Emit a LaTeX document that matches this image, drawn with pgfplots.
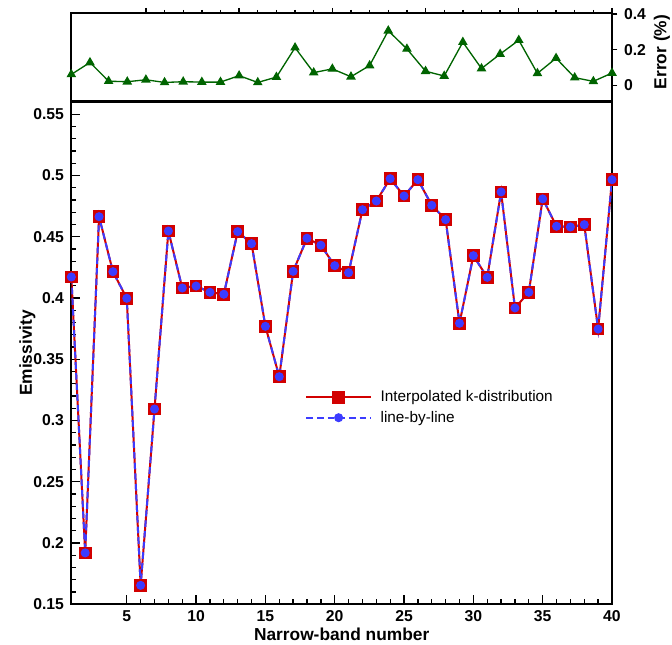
\documentclass[border=0pt]{standalone}
\usepackage{fontspec}
\setmainfont{Liberation Sans}
\usepackage{pgfplots}
\usepackage{pgfplotstable}
\pgfplotsset{compat=1.18}

\definecolor{kdred}{RGB}{210,0,0}
\definecolor{lblblue}{RGB}{60,60,255}
\definecolor{errgreen}{RGB}{0,100,0}

% band  k-distribution  line-by-line
\pgfplotstableread{
band kd     lbl
1    0.4172 0.4172
2    0.1920 0.1920
3    0.4664 0.4664
4    0.4215 0.4215
5    0.3998 0.3998
6    0.1655 0.1655
7    0.3094 0.3094
8    0.4547 0.4547
9    0.4082 0.4082
10   0.4098 0.4098
11   0.4047 0.4047
12   0.4031 0.4031
13   0.4542 0.4542
14   0.4444 0.4444
15   0.3769 0.3769
16   0.3358 0.3358
17   0.4218 0.4218
18   0.4488 0.4488
19   0.4431 0.4431
20   0.4264 0.4264
21   0.4207 0.4207
22   0.4721 0.4721
23   0.4792 0.4792
24   0.4974 0.4974
25   0.4833 0.4833
26   0.4966 0.4966
27   0.4757 0.4757
28   0.4640 0.4640
29   0.3794 0.3794
30   0.4346 0.4346
31   0.4169 0.4169
32   0.4866 0.4866
33   0.3919 0.3919
34   0.4047 0.4047
35   0.4809 0.4809
36   0.4586 0.4586
37   0.4580 0.4580
38   0.4599 0.4599
39   0.3747 0.3747
40   0.4966 0.4966
}\emissivity

% relative error in percent
\pgfplotstableread{
n   err
1   0.062
2   0.129
3   0.024
4   0.021
5   0.032
6   0.017
7   0.021
8   0.019
9   0.019
10  0.055
11  0.017
12  0.047
13  0.212
14  0.072
15  0.093
16  0.049
17  0.112
18  0.307
19  0.205
20  0.080
21  0.053
22  0.243
23  0.095
24  0.176
25  0.254
26  0.068
27  0.153
28  0.044
29  0.023
30  0.070
}\errortab

\begin{document}
\begin{tikzpicture}
\path[use as bounding box] (0,0) rectangle (504pt,483.75pt);

\pgfplotsset{
  common/.style={
    scale only axis,
    width=405.5pt,
    axis line style={line width=1.6pt},
    tick style={line width=1pt, black},
    /pgf/number format/assume math mode=true,
    ticklabel style={font=\bfseries\fontsize{11.8}{13}\selectfont},
    label style={font=\bfseries\fontsize{13}{15}\selectfont},
  }
}

% emissivity panel
\begin{axis}[
  common,
  at={(53.5pt,30.5pt)}, anchor=south west,
  height=377.1pt,
  xmin=1, xmax=40, ymin=0.15, ymax=0.5604,
  xtick={5,10,15,20,25,30,35,40},
  minor x tick num=4,
  ytick={0.15,0.2,0.25,0.3,0.35,0.4,0.45,0.5,0.55},
  minor y tick num=4,
  yticklabel style={/pgf/number format/fixed, /pgf/number format/precision=2, xshift=-2pt},
  tick align=inside,
  xtick pos=left, ytick pos=left,
  major tick length=6.75pt, minor tick length=3.75pt,
  xticklabel style={yshift=-1pt},
  xlabel={Narrow-band number},
  ylabel={Emissivity},
  xlabel style={at={(axis description cs:0.5,-0.0597)}, anchor=center},
  ylabel style={at={(axis description cs:-0.0814,0.5)}, anchor=center},
  legend style={at={(0.425,0.436)}, anchor=north west, draw=none, fill=none,
    font=\fontsize{11.5}{13}\selectfont, row sep=1.5pt},
  legend cell align=left,
  legend image code/.code={%
    \draw[mark repeat=2, mark phase=2, #1]
      plot coordinates {(0cm,0cm) (0.85cm,0cm) (1.7cm,0cm)};
    \path (1.86cm,0cm);},
]
\addplot[kdred, line width=1.5pt, mark=square*, mark size=4pt,
  mark options={solid, fill=kdred, draw=kdred}]
  table[x=band, y=kd] {\emissivity};
\addlegendentry{Interpolated k-distribution}
\addplot[lblblue, line width=1.5pt, dash pattern=on 5pt off 3pt,
  mark=*, mark size=2.6pt, mark options={solid, fill=lblblue, draw=lblblue}]
  table[x=band, y=lbl] {\emissivity};
\addlegendentry{line-by-line}
\end{axis}

% error panel
\begin{axis}[
  common,
  at={(53.5pt,407.6pt)}, anchor=south west,
  height=66.2pt,
  xmin=1, xmax=30, ymin=-0.09, ymax=0.405,
  xtick={5,10,15,20,25,30},
  minor x tick num=4,
  xticklabels={},
  xtick pos=right,
  tick align=outside,
  major tick length=4pt, minor tick length=2.5pt,
  ytick={0,0.2,0.4},
  yticklabels={0,0.2,0.4},
  ytick pos=right, yticklabel pos=right,
  yticklabel style={xshift=1.5pt},
  ylabel={Error (\%)},
  ylabel style={at={(axis description cs:1.0925,0.56)}, anchor=center},
]
\addplot[errgreen, line width=1pt, mark=triangle*, mark size=3.2pt,
  mark options={fill=errgreen, draw=errgreen}]
  table[x=n, y=err] {\errortab};
\end{axis}
\end{tikzpicture}
\end{document}
